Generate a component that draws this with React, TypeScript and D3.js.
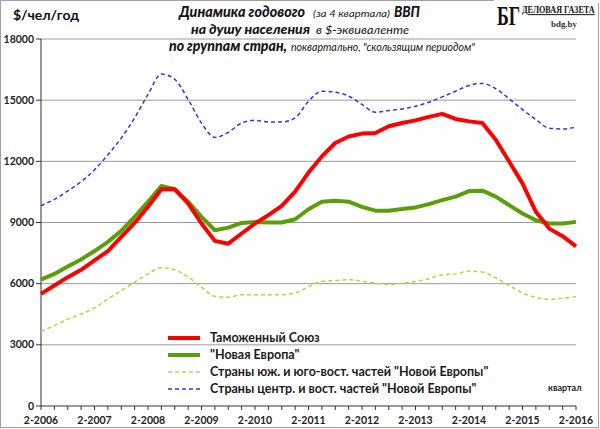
import * as d3 from 'd3';

const years = ['2006', '2007', '2008', '2009', '2010', '2011', '2012', '2013', '2014', '2015', '2016'];
const quarters = d3.range(0, 41);
const yTicks = [0, 3000, 6000, 9000, 12000, 15000, 18000];

const customsUnion = [
  5500, 5910, 6320, 6680, 7140, 7600, 8290, 8980, 9770, 10630, 10630, 9940, 8950, 8100, 7960, 8460,
  8950, 9360, 9820, 10510, 11450, 12240, 12900, 13220, 13360, 13390, 13720, 13880, 14010, 14180,
  14330, 14080, 13960, 13880, 13060, 11990, 10920, 9525, 8700, 8330, 7830,
];
const newEurope = [
  6200, 6480, 6840, 7190, 7600, 8050, 8590, 9280, 10020, 10790, 10630, 10020, 9280, 8620, 8750, 8980,
  9030, 9000, 9000, 9160, 9650, 10020, 10070, 10020, 9770, 9580, 9580, 9660, 9740, 9900, 10100, 10270,
  10540, 10560, 10270, 9850, 9440, 9110, 8950, 8950, 9030,
];
const southEast = [
  3660, 3940, 4260, 4510, 4810, 5250, 5660, 6070, 6480, 6780, 6680, 6320, 5830, 5380, 5330, 5460,
  5460, 5460, 5460, 5540, 5850, 6110, 6150, 6200, 6120, 6020, 5960, 6020, 6110, 6240, 6440, 6480,
  6620, 6570, 6290, 5910, 5540, 5330, 5230, 5280, 5360,
];
const centralEast = [
  9820, 10134, 10545, 11005, 11580, 12320, 13140, 14130, 15280, 16280, 16020, 15030, 13880, 13175,
  13420, 13880, 14010, 13930, 13930, 14130, 14950, 15440, 15390, 15200, 14790, 14410, 14490, 14570,
  14700, 14900, 15160, 15440, 15720, 15820, 15560, 15070, 14540, 14050, 13620, 13590, 13670,
];

const series = [
  { name: 'Таможенный Союз', values: customsUnion, color: '#ff0000', width: 4, dash: null as string | null },
  { name: '"Новая Европа"', values: newEurope, color: '#5c9e0a', width: 4, dash: null },
  { name: 'Страны юж. и юго-вост. частей "Новой Европы"', values: southEast, color: '#b8d43a', width: 1.5, dash: '4,3' },
  { name: 'Страны центр. и вост. частей "Новой Европы"', values: centralEast, color: '#3333dd', width: 1.5, dash: '4,3' },
];

// title pieces: text, start x, width, baseline, bold, font size
const titleParts = [
  { t: 'Динамика годового', x: 179, w: 126, y: 17, bold: true, fs: 15 },
  { t: '(за 4 квартала)', x: 313, w: 77, y: 17, bold: false, fs: 10 },
  { t: 'ВВП', x: 394, w: 26, y: 17, bold: true, fs: 15 },
  { t: 'на душу населения', x: 191, w: 119, y: 34, bold: true, fs: 14 },
  { t: 'в $-эквиваленте', x: 316, w: 93, y: 34, bold: false, fs: 10.5 },
  { t: 'по группам стран,', x: 169, w: 118, y: 51, bold: true, fs: 14.5 },
  { t: 'поквартально, "скользящим периодом"', x: 291, w: 184, y: 51, bold: false, fs: 10.5 },
];

const W = 600;
const H = 429;
const font = 'Lato, "Open Sans", sans-serif';
const serif = '"Liberation Serif", "DejaVu Serif", serif';

export default function App() {
  const x = d3.scaleLinear().domain([0, 40]).range([41, 576]);
  const y = d3.scaleLinear().domain([0, 18000]).range([406, 39]);

  const lineFor = (smooth: boolean) =>
    d3
      .line<number>()
      .x((_, i) => x(i))
      .y((d) => y(d))
      .curve(smooth ? d3.curveMonotoneX : d3.curveLinear);

  // dashed first, solid lines drawn over them
  const order = [2, 3, 1, 0];

  return (
    <svg width={W} height={H} style={{ position: 'absolute', left: 0, top: 0, background: '#fff' }} fontFamily={font}>
      <rect x={0.5} y={0.5} width={W - 2} height={H - 2} fill="#fff" stroke="#a0a0a0" />

      {yTicks.slice(1).map((t) => (
        <line key={t} x1={x(0)} x2={x(40)} y1={y(t)} y2={y(t)} stroke="#9a9a9a" strokeWidth={1} />
      ))}

      {/* y axis */}
      <line x1={x(0)} x2={x(0)} y1={y(0)} y2={y(18000)} stroke="#333" />
      {yTicks.map((t) => (
        <g key={t}>
          <line x1={x(0) - 5} x2={x(0)} y1={y(t)} y2={y(t)} stroke="#333" />
          <text x={x(0) - 7} y={y(t) + 3.5} textAnchor="end" fontSize={10.5} fontWeight={700} fill="#222">
            {t}
          </text>
        </g>
      ))}

      {/* x axis */}
      <line x1={x(0)} x2={x(40)} y1={y(0)} y2={y(0)} stroke="#333" />
      {quarters.map((q) => (
        <line key={q} x1={x(q)} x2={x(q)} y1={y(0)} y2={y(0) + 4} stroke="#333" />
      ))}
      {years.map((yr, i) => (
        <text key={yr} x={x(i * 4)} y={424} textAnchor="middle" fontSize={10.5} fontWeight={700} fill="#222">
          2-{yr}
        </text>
      ))}

      {order.map((k) => {
        const s = series[k];
        return (
          <path
            key={s.name}
            d={lineFor(s.dash !== null)(s.values) ?? ''}
            fill="none"
            stroke={s.color}
            strokeWidth={s.width}
            strokeDasharray={s.dash ?? undefined}
            strokeLinejoin="round"
          />
        );
      })}

      {/* legend */}
      {series.map((s, i) => {
        const ly = 338 + i * 17;
        return (
          <g key={s.name}>
            <line x1={168} x2={200} y1={ly} y2={ly} stroke={s.color} strokeWidth={s.dash ? 1.5 : 4} strokeDasharray={s.dash ?? undefined} />
            <text x={210} y={ly + 4} fontSize={12.5} fontWeight={700} fill="#1a1a1a">
              {s.name}
            </text>
          </g>
        );
      })}
      <text x={548} y={391} fontSize={9} fontWeight={700} fill="#222">квартал</text>

      {/* titles */}
      <text x={13} y={20} fontSize={14} fontWeight={700} fill="#111">$/чел/год</text>
      {titleParts.map((p) => (
        <text
          key={p.t}
          x={p.x}
          y={p.y}
          fontStyle="italic"
          fontWeight={p.bold ? 900 : 400}
          fontSize={p.fs}
          textLength={p.w}
          lengthAdjust="spacingAndGlyphs"
          fill="#151515"
        >
          {p.t}
        </text>
      ))}

      {/* logo */}
      <rect x={494} y={0} width={106} height={3} fill="#fff" />
      <g transform="translate(497,25) scale(0.68,1)">
        <text x={0} y={0} fontFamily={serif} fontSize={27} fontWeight={700} fill="#111" textLength={34} lengthAdjust="spacingAndGlyphs">
          БГ
        </text>
      </g>
      <g transform="translate(522,13) scale(0.75,1)">
        <text x={0} y={0} fontFamily={serif} fontSize={10} fontWeight={700} fill="#111" textLength={97} lengthAdjust="spacingAndGlyphs" textDecoration="underline">
          ДЕЛОВАЯ ГАЗЕТА
        </text>
      </g>
      <text x={551} y={27} fontFamily={serif} fontSize={8} fontWeight={700} fill="#333" textLength={26} lengthAdjust="spacingAndGlyphs">
        bdg.by
      </text>
    </svg>
  );
}
